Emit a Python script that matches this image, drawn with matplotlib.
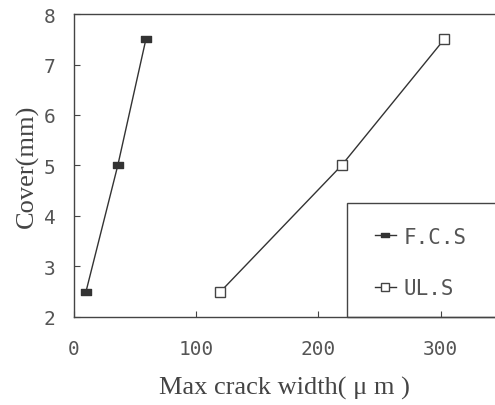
import matplotlib.pyplot as plt
from matplotlib.patches import Rectangle
from matplotlib.path import Path

# data
fcs_width = [10, 36, 59]
fcs_cover = [2.5, 5.0, 7.5]
uls_width = [120, 219, 303]
uls_cover = [2.5, 5.0, 7.5]
x_ticks = [0, 100, 200, 300]
y_ticks = [2, 3, 4, 5, 6, 7, 8]

fig = plt.figure(figsize=(4.95, 4.06), dpi=100)
ax = fig.add_axes([0.149, 0.217, 0.851, 0.746])

# flat filled rectangle marker
rect_marker = Path([(-1, -0.6), (1, -0.6), (1, 0.6), (-1, 0.6), (-1, -0.6)],
                   [Path.MOVETO, Path.LINETO, Path.LINETO, Path.LINETO, Path.CLOSEPOLY])

line_col = '#333333'
ax.plot(fcs_width, fcs_cover, color=line_col, lw=1.0, marker=rect_marker, ms=7,
        mfc='#333333', mec='#333333', label='F.C.S')
ax.plot(uls_width, uls_cover, color=line_col, lw=1.0, marker='s', ms=7,
        mfc='white', mec='#444444', mew=1.0, label='UL.S')

ax.set_xlim(0, 344.5)
ax.set_ylim(2, 8)
ax.set_xticks(x_ticks)
ax.set_yticks(y_ticks)
ax.tick_params(direction='in', length=4, color='#444444', labelcolor='#555555',
               labelsize=14)
ax.tick_params(axis='x', pad=16)
ax.tick_params(axis='y', pad=13)
for lab in ax.get_xticklabels() + ax.get_yticklabels():
    lab.set_family('DejaVu Sans Mono')
ax.spines['right'].set_visible(False)
for s in ['left', 'top', 'bottom']:
    ax.spines[s].set_color('#444444')
    ax.spines[s].set_linewidth(1.0)

ax.set_xlabel('Max crack width( μ m )', family='Liberation Serif', fontsize=19,
              color='#444444', labelpad=13)
ax.set_ylabel('Cover(mm)', family='Liberation Serif', fontsize=19,
              color='#444444', labelpad=4)

# legend frame
ax.add_patch(Rectangle((0.648, 0.0), 0.4, 0.377, transform=ax.transAxes,
                       fill=False, ec='#444444', lw=1.0, clip_on=False))
leg = ax.legend(loc='center left', bbox_to_anchor=(0.67, 0.18), frameon=False,
                handlelength=1.0, handletextpad=0.4, labelspacing=1.5,
                markerscale=0.8,
                prop={'family': 'DejaVu Sans Mono', 'size': 15})
for t in leg.get_texts():
    t.set_color('#555555')

fig.savefig('out.png', dpi=100)
